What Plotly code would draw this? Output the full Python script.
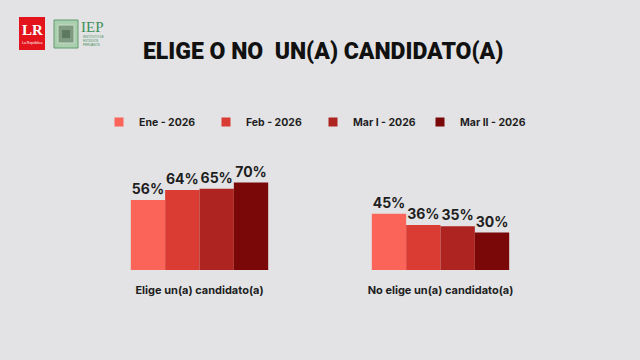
import plotly.graph_objects as go

categories = ["Elige un(a) candidato(a)", "No elige un(a) candidato(a)"]
series_names = ["Ene - 2026", "Feb - 2026", "Mar I - 2026", "Mar II - 2026"]
ene = [56, 45]
feb = [64, 36]
mar1 = [65, 35]
mar2 = [70, 30]
series_values = [ene, feb, mar1, mar2]
colors = ["#fb6458", "#da3b33", "#ad2420", "#7b0808"]

W, H = 640, 360
ML, MR, MT, MB = 79, 79, 170, 90
PW, PH = W - ML - MR, H - MT - MB

def px(x):
    return (x - ML) / PW

def py(y):
    return (H - MB - y) / PH

fig = go.Figure()
for name, vals, col in zip(series_names, series_values, colors):
    fig.add_trace(go.Bar(
        x=categories, y=vals, name=name, marker_color=col, marker_line_width=0,
        text=[f"{v}%" for v in vals], textposition="outside", cliponaxis=False,
        textfont=dict(family="Inter", size=14, color="#1e1e1e", weight="bold"),
        showlegend=False,
    ))
    fig.add_trace(go.Scatter(
        x=[None], y=[None], mode="markers", name=name,
        marker=dict(symbol="square", size=9, color=col),
    ))

shapes = [
    dict(type="rect", xref="paper", yref="paper", x0=px(19), x1=px(45), y0=py(50), y1=py(17),
         fillcolor="#e3141c", line_width=0, layer="above"),
    dict(type="rect", xref="paper", yref="paper", x0=px(54), x1=px(78), y0=py(48), y1=py(20),
         fillcolor="#a9cfae", line=dict(color="#5e9a6c", width=1), layer="above"),
    dict(type="rect", xref="paper", yref="paper", x0=px(58), x1=px(74), y0=py(43), y1=py(25),
         fillcolor="#7e9a80", line=dict(color="#c9dcc8", width=1), layer="above"),
    dict(type="rect", xref="paper", yref="paper", x0=px(62), x1=px(70), y0=py(38), y1=py(30),
         fillcolor="#5d7a61", line_width=0, layer="above"),
]
annotations = [
    dict(text="<b>LR</b>", x=px(32), y=py(30), xref="paper", yref="paper", showarrow=False,
         xanchor="center", yanchor="middle",
         font=dict(family="Liberation Serif", size=15, color="white")),
    dict(text="La República", x=px(32), y=py(43), xref="paper", yref="paper", showarrow=False,
         xanchor="center", yanchor="middle",
         font=dict(family="Liberation Sans", size=3.5, color="white")),
    dict(text="IEP", x=px(79), y=py(27), xref="paper", yref="paper", showarrow=False,
         xanchor="left", yanchor="middle",
         font=dict(family="Liberation Serif", size=15, color="#3f8f58")),
    dict(text="INSTITUTO DE<br>ESTUDIOS<br>PERUANOS", x=px(81), y=py(41), xref="paper", yref="paper",
         showarrow=False, xanchor="left", yanchor="middle", align="left",
         font=dict(family="Liberation Sans", size=3, color="#3f8f58")),
    dict(text="ELIGE O NO  UN(A) CANDIDATO(A)", x=px(323), y=py(51), xref="paper", yref="paper",
         showarrow=False, xanchor="center", yanchor="middle",
         font=dict(family="Roboto", size=23, color="#111111", weight=900)),
]

fig.update_layout(
    width=W, height=H,
    margin=dict(l=ML, r=MR, t=MT, b=MB),
    paper_bgcolor="#e3e3e5", plot_bgcolor="rgba(0,0,0,0)",
    barmode="group", bargap=0.43, bargroupgap=0,
    shapes=shapes, annotations=annotations,
    legend=dict(orientation="h", x=px(99), xanchor="left", y=py(122), yanchor="middle",
                entrywidth=62, entrywidthmode="pixels", bgcolor="rgba(0,0,0,0)",
                font=dict(family="Inter", size=10.5, color="#1e1e1e", weight="bold")),
    xaxis=dict(showgrid=False, zeroline=False, showline=False, ticks="",
               tickfont=dict(family="Inter", size=11, color="#1e1e1e", weight="bold"),
               ticklabelstandoff=12),
    yaxis=dict(range=[0, 80], visible=False, showgrid=False, zeroline=False),
)

fig.write_html("out.html")
